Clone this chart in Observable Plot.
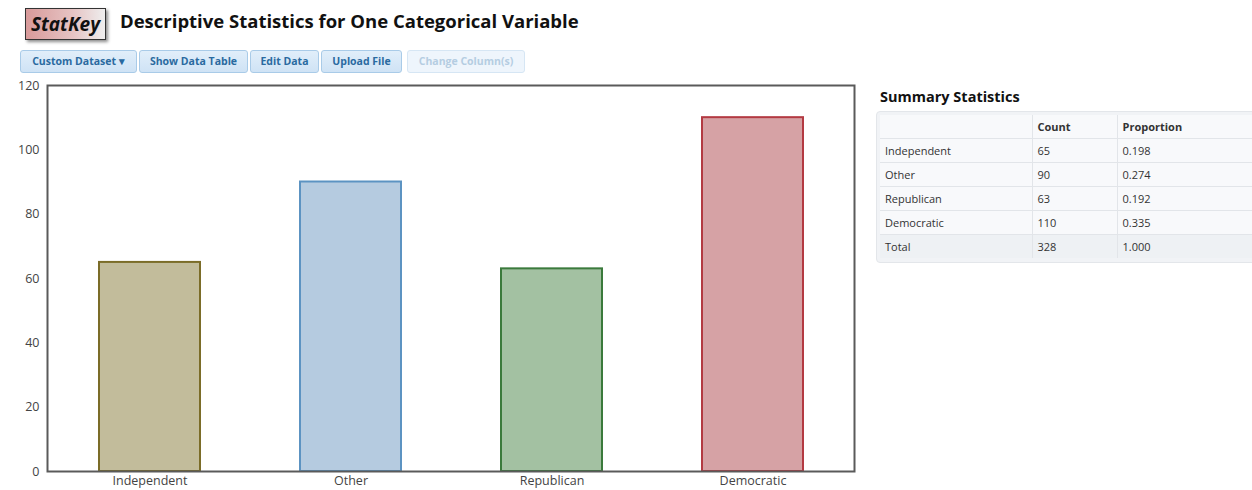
<!DOCTYPE html>
<html>
<head>
<meta charset="utf-8">
<script src="https://cdn.jsdelivr.net/npm/d3@7"></script>
<script src="https://cdn.jsdelivr.net/npm/@observablehq/plot@0.6"></script>
<style>
  html, body { margin: 0; padding: 0; background: #fff; overflow: hidden; width: 1252px; height: 490px; }
  body { position: relative; font-family: "Open Sans", sans-serif; color: #222; }
  #logo { position: absolute; left: 25px; top: 8px; width: 79px; height: 30px; border: 1px solid #333;
    background: linear-gradient(90deg, #d89a9a 0%, #e6c4c4 60%, #eeeeee 100%);
    box-shadow: 2px 2px 3px rgba(0,0,0,0.45); font-style: italic; font-weight: bold; font-size: 19px;
    line-height: 30px; text-align: center; color: #111; }
  #title { position: absolute; left: 120px; top: 8px; font-weight: bold; font-size: 18.5px; color: #111; white-space: nowrap; }
  .btn { position: absolute; top: 50px; height: 21px; border: 1px solid #a9cbe8; border-radius: 3px;
    background: linear-gradient(#e1eefa, #cfe3f5); color: #2a6aa0; font-weight: bold; font-size: 10.5px;
    line-height: 21px; text-align: center; white-space: nowrap; }
  .btn.dis { color: #b5cde2; background: #eef5fc; border-color: #d6e6f4; }
  #chart { position: absolute; left: 0; top: 78px; }
  #sumtitle { position: absolute; left: 880px; top: 87px; font-weight: bold; font-size: 14.5px; color: #111; }
  #tbox { position: absolute; left: 876px; top: 111px; width: 460px; height: 150px; background: #f1f3f6;
    border: 1px solid #e3e6ea; border-radius: 4px; }
  #tbl { position: absolute; left: 3px; top: 3px; width: 450px; table-layout: fixed; border-collapse: collapse; font-size: 11px; color: #333; background: #f8f9fb; }
  #tbl td, #tbl th { height: 23px; padding: 0 5px; text-align: left; border-top: 1px solid #e2e5e9; border-left: 1px solid #e2e5e9; }
  #tbl th { font-weight: bold; border-top: none; }
  #tbl tr > :first-child { border-left: none; }
  #tbl tr.total td { background: #eef1f4; }
</style>
</head>
<body>
<div id="logo">StatKey</div>
<div id="title">Descriptive Statistics for One Categorical Variable</div>
<div id="buttons"></div>
<div id="chart"></div>
<div id="sumtitle">Summary Statistics</div>
<div id="tbox"><table id="tbl"></table></div>
<script>
const categories = ["Independent", "Other", "Republican", "Democratic"];
const counts = [65, 90, 63, 110];
const proportions = ["0.198", "0.274", "0.192", "0.335"];
const totalCount = 328;
const totalProportion = "1.000";
const yTicks = [0, 20, 40, 60, 80, 100, 120];
const fillColors = ["#c2bc9b", "#b5cbe0", "#a3c1a2", "#d6a2a5"];
const strokeColors = ["#7b6c28", "#5c93c2", "#3b7a3c", "#b33a42"];
const buttonLabels = ["Custom Dataset \u25BE", "Show Data Table", "Edit Data", "Upload File", "Change Column(s)"];

// buttons
const btnPos = [[20, 117], [139, 109], [250, 69], [321, 81], [407, 118]];
const bwrap = document.getElementById("buttons");
buttonLabels.forEach((t, i) => {
  const b = document.createElement("div");
  b.className = "btn" + (i === 4 ? " dis" : "");
  b.style.left = btnPos[i][0] + "px";
  b.style.width = (btnPos[i][1] - 2) + "px";
  b.textContent = t;
  bwrap.appendChild(b);
});

const data = categories.map((c, i) => ({category: c, count: counts[i], fill: fillColors[i], stroke: strokeColors[i]}));

const chart = Plot.plot({
  width: 860,
  height: 412,
  marginLeft: 47,
  marginRight: 6,
  marginTop: 7,
  marginBottom: 19,
  style: {fontFamily: "Open Sans, sans-serif", fontSize: "12.5px", color: "#444", background: "transparent"},
  x: {domain: categories, paddingInner: 0.5, paddingOuter: 0.25, label: null, tickSize: 0, tickPadding: 5},
  y: {domain: [0, 120], ticks: yTicks, label: null, tickSize: 0, tickPadding: 8},
  color: {type: "identity"},
  marks: [
    Plot.barY(data, {x: "category", y: "count", fill: "fill", stroke: "stroke", strokeWidth: 2}),
    Plot.frame({stroke: "#5a5a5a", strokeWidth: 2})
  ]
});
document.getElementById("chart").appendChild(chart);

// table
const tbl = document.getElementById("tbl");
const colW = [152, 85, 213];
let html = "<colgroup>" + colW.map(w => "<col style='width:" + w + "px'>").join("") + "</colgroup>";
html += "<tr><th></th><th>Count</th><th>Proportion</th></tr>";
categories.forEach((c, i) => {
  html += "<tr><td>" + c + "</td><td>" + counts[i] + "</td><td>" + proportions[i] + "</td></tr>";
});
html += "<tr class='total'><td>Total</td><td>" + totalCount + "</td><td>" + totalProportion + "</td></tr>";
tbl.innerHTML = html;
</script>
</body>
</html>
